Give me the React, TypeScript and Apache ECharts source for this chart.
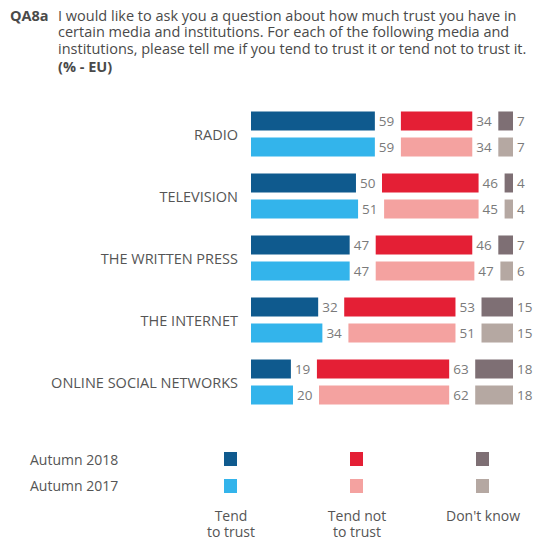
import React, { useEffect, useRef } from "react";
import * as echarts from "echarts";

const categories = ["RADIO", "TELEVISION", "THE WRITTEN PRESS", "THE INTERNET", "ONLINE SOCIAL NETWORKS"];
const trust2018 = [59, 50, 47, 32, 19];
const trust2017 = [59, 51, 47, 34, 20];
const notTrust2018 = [34, 46, 46, 53, 63];
const notTrust2017 = [34, 45, 47, 51, 62];
const dk2018 = [7, 4, 7, 15, 18];
const dk2017 = [7, 4, 6, 15, 18];
const legendYears = ["Autumn 2018", "Autumn 2017"];
const legendGroups = [["Tend", "to trust"], ["Tend not", "to trust"], ["Don't know"]];

const GAP = 12.4;
const FONT = "'Open Sans', 'Noto Sans', sans-serif";

const C = {
  trust18: "#0f5a8e",
  trust17: "#33b4eb",
  not18: "#e41f35",
  not17: "#f4a2a0",
  dk18: "#7e6f74",
  dk17: "#b5a8a2",
};

function makeStack(stackId: string, trust: number[], not: number[], dk: number[], colors: string[]) {
  const label = {
    show: true,
    position: "right" as const,
    distance: 4,
    color: "#7a7a7a",
    fontSize: 13.5,
    fontFamily: FONT,
  };
  const base = { type: "bar", stack: stackId, barWidth: 19, barGap: "37%" };
  const gapSeries = (name: string) => ({
    ...base,
    name,
    data: trust.map(() => GAP),
    itemStyle: { color: "transparent" },
    silent: true,
  });
  return [
    { ...base, name: "trust" + stackId, data: trust, itemStyle: { color: colors[0] }, label },
    gapSeries("gapA" + stackId),
    { ...base, name: "not" + stackId, data: not, itemStyle: { color: colors[1] }, label },
    gapSeries("gapB" + stackId),
    { ...base, name: "dk" + stackId, data: dk, itemStyle: { color: colors[2] }, label },
  ];
}

export default function App() {
  const ref = useRef<HTMLDivElement>(null);
  useEffect(() => {
    if (!ref.current) return;
    const chart = echarts.init(ref.current, undefined, { renderer: "svg" });
    const textStyle = { fill: "#4a4a4a", fontSize: 14.5, fontFamily: FONT, lineHeight: 16 };
    const legendColors = [
      [C.trust18, C.not18, C.dk18],
      [C.trust17, C.not17, C.dk17],
    ];
    const legendX = [224, 350, 476];
    const titleLines = [
      "I would like to ask you a question about how much trust you have in",
      "certain media and institutions. For each of the following media and",
      "institutions, please tell me if you tend to trust it or tend not to trust it.",
    ];
    const graphics: any[] = [
      { type: "text", left: 10, top: 7, style: { ...textStyle, text: "QA8a", fontWeight: "bold" } },
      { type: "text", left: 58, top: 58, style: { ...textStyle, text: "(% - EU)", fontWeight: "bold" } },
    ];
    titleLines.forEach((t, i) => {
      graphics.push({ type: "text", left: 58, top: 7 + i * 16.5, style: { ...textStyle, text: t } });
    });
    legendYears.forEach((y, i) => {
      graphics.push({ type: "text", left: 30, top: 451 + i * 26, style: { ...textStyle, text: y, fill: "#555", fontSize: 14 } });
      legendColors[i].forEach((col, j) => {
        graphics.push({ type: "rect", shape: { x: legendX[j], y: 452 + i * 27, width: 13, height: 14 }, style: { fill: col } });
      });
    });
    legendGroups.forEach((g, j) => {
      g.forEach((line, k) => {
        graphics.push({
          type: "text",
          x: legendX[j] + 7,
          y: 515 + k * 16,
          style: { ...textStyle, text: line, fill: "#555", fontSize: 14, lineHeight: 15, align: "center", verticalAlign: "middle" },
        });
      });
    });
    chart.setOption({
      animation: false,
      grid: { left: 251, right: 20, top: 103, bottom: 127, containLabel: false },
      xAxis: { type: "value", min: 0, max: 100 + 2 * GAP, show: false },
      yAxis: {
        type: "category",
        data: categories,
        inverse: true,
        axisLine: { show: false },
        axisTick: { show: false },
        axisLabel: { color: "#555", fontSize: 14.5, fontFamily: FONT, margin: 13 },
      },
      graphic: graphics,
      series: [
        ...makeStack("y2018", trust2018, notTrust2018, dk2018, [C.trust18, C.not18, C.dk18]),
        ...makeStack("y2017", trust2017, notTrust2017, dk2017, [C.trust17, C.not17, C.dk17]),
      ],
    });
    return () => chart.dispose();
  }, []);
  return <div ref={ref} style={{ position: "fixed", left: 0, top: 0, width: 533, height: 540, background: "#fff" }} />;
}
